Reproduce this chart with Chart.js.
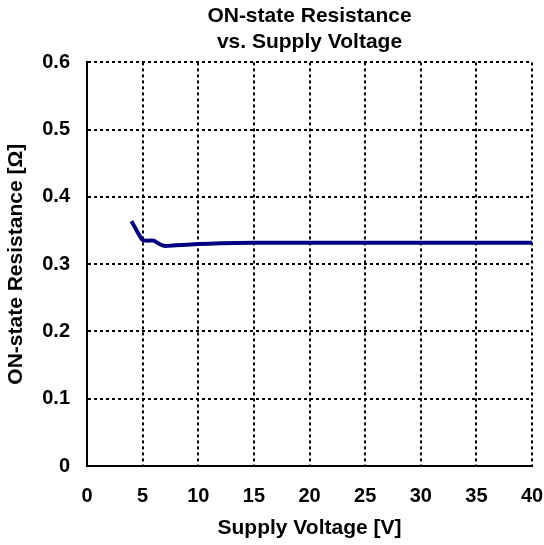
<!DOCTYPE html>
<html>
<head>
<meta charset="utf-8">
<script src="https://cdn.jsdelivr.net/npm/chart.js@4/dist/chart.umd.min.js"></script>
<style>
  html, body { margin: 0; padding: 0; background: #fff; }
  #wrap { width: 544px; height: 545px; }
</style>
</head>
<body>
<div id="wrap"><canvas id="resChart" width="544" height="545"></canvas></div>
<script>
// supply voltage [V] and ON-state resistance [ohm]
const voltage = [4, 4.5, 5, 5.5, 6, 6.5, 7, 8, 10, 12, 15, 20, 25, 30, 35, 40];
const resistance = [0.364, 0.349, 0.336, 0.335, 0.335, 0.330, 0.327, 0.328, 0.330, 0.331, 0.332, 0.332, 0.332, 0.332, 0.332, 0.332];
const xTicks = [0, 5, 10, 15, 20, 25, 30, 35, 40];
const yTicks = [0, 0.1, 0.2, 0.3, 0.4, 0.5, 0.6];

const font = { family: '"Liberation Sans", Arial, sans-serif', size: 20, weight: 'bold' };
const titleFont = { family: '"Liberation Sans", Arial, sans-serif', size: 21, weight: 'bold' };

const points = voltage.map((v, i) => ({ x: v, y: resistance[i] }));

const ctx = document.getElementById('resChart').getContext('2d');

new Chart(ctx, {
  type: 'scatter',
  data: {
    datasets: [{
      data: points,
      showLine: true,
      borderColor: '#000080',
      borderWidth: 4,
      pointRadius: 0,
      tension: 0.2
    }]
  },
  options: {
    responsive: false,
    animation: false,
    layout: { padding: { left: 4, right: 2, top: 0, bottom: 4 } },
    plugins: {
      legend: { display: false },
      tooltip: { enabled: false },
      title: {
        display: true,
        fullSize: false,
        text: ['ON-state Resistance', 'vs. Supply Voltage'],
        color: '#000',
        font: titleFont,
        lineHeight: 1.2,
        padding: { top: 4, bottom: 8 }
      }
    },
    scales: {
      x: {
        type: 'linear',
        min: 0,
        max: 40,
        afterBuildTicks: axis => { axis.ticks = xTicks.map(v => ({ value: v })); },
        ticks: { color: '#000', font: font, padding: 18, maxRotation: 0 },
        grid: { color: '#000', lineWidth: 2, drawTicks: false },
        border: { color: '#000', width: 2, dash: [3, 3] },
        title: { display: true, text: 'Supply Voltage [V]', color: '#000', font: titleFont, padding: { top: 6, bottom: 0 } },
        afterFit: axis => { axis.height = 75; axis.paddingRight = 12; }
      },
      y: {
        type: 'linear',
        min: 0,
        max: 0.6,
        afterBuildTicks: axis => { axis.ticks = yTicks.map(v => ({ value: v })); },
        ticks: { color: '#000', font: font, padding: 17, callback: v => v === 0 ? '0' : v.toFixed(1) },
        grid: { color: '#000', lineWidth: 2, drawTicks: false },
        border: { color: '#000', width: 2, dash: [3, 3] },
        title: { display: true, text: 'ON-state Resistance [Ω]', color: '#000', font: titleFont, padding: { top: 0, bottom: 0 } },
        afterFit: axis => { axis.width = 83; }
      }
    }
  }
});
</script>
</body>
</html>
